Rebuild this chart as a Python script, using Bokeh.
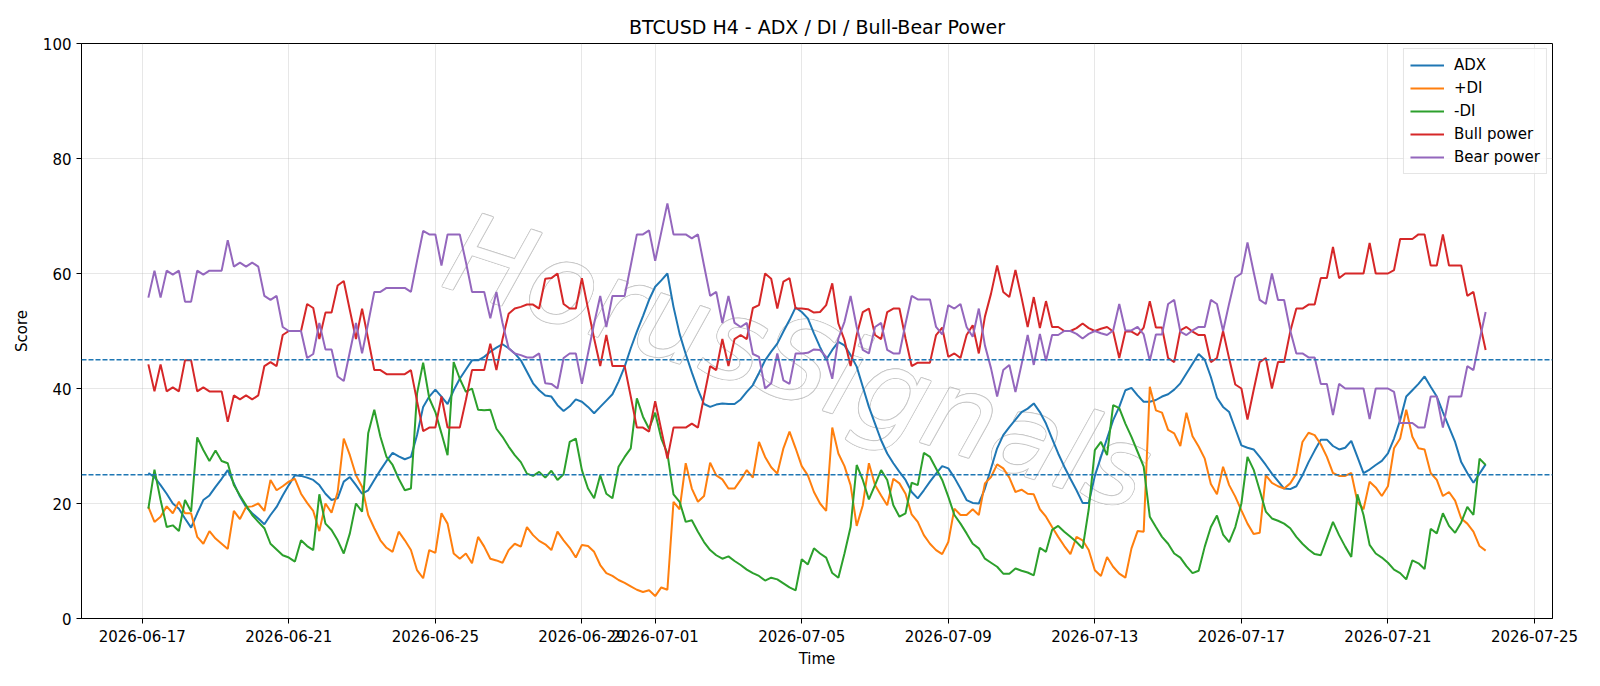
import math
import pandas as pd
from bokeh.plotting import figure
from bokeh.models import (Range1d, FixedTicker, DatetimeTickFormatter, Span,
                          Legend, LegendItem)
from bokeh.core.properties import value
from bokeh.embed import file_html
from bokeh.resources import INLINE

# H4 readings, one value per 4-hour candle starting 2026-06-17 04:00
adx = [
    25.3, 24.6, 23.2, 21.7, 20.0, 19.1, 17.4, 15.8, 18.3, 20.6,
    21.4, 22.9, 24.3, 25.8, 23.5, 21.2, 19.4, 18.3, 17.4, 16.4,
    18.0, 19.4, 21.4, 23.2, 24.9, 24.8, 24.5, 24.1, 23.2, 21.7,
    20.6, 20.9, 23.8, 24.6, 23.2, 21.7, 22.3, 24.1, 25.8, 27.4,
    28.8, 28.2, 27.7, 28.1, 31.9, 36.8, 38.6, 39.8, 38.6, 37.3,
    39.7, 41.7, 43.3, 44.9, 44.9, 45.5, 46.4, 47.1, 47.7, 47.0,
    46.1, 44.9, 42.9, 40.9, 39.7, 38.8, 38.6, 37.1, 36.1, 36.9,
    38.1, 37.7, 36.8, 35.7, 36.8, 37.9, 39.0, 41.2, 43.8, 47.0,
    49.9, 52.6, 55.4, 57.7, 58.8, 60.0, 54.2, 49.5, 46.0, 42.8,
    39.8, 37.3, 36.8, 37.2, 37.4, 37.3, 37.3, 38.1, 39.4, 40.6,
    42.7, 44.9, 46.4, 47.8, 49.9, 51.9, 54.1, 53.3, 52.2, 49.6,
    47.2, 45.0, 46.7, 48.1, 47.5, 45.8, 43.8, 40.3, 36.8, 33.9,
    31.0, 28.7, 27.0, 25.5, 24.1, 22.0, 20.9, 22.3, 23.8, 25.2,
    26.5, 26.1, 24.5, 22.6, 20.6, 20.1, 20.0, 22.6, 26.1, 29.6,
    31.9, 33.3, 34.6, 35.9, 36.5, 37.4, 35.9, 33.9, 31.3, 28.7,
    26.4, 24.3, 22.3, 20.1, 20.1, 24.8, 28.1, 31.3, 34.5, 36.8,
    39.7, 40.1, 38.8, 37.7, 37.7, 38.0, 38.6, 39.0, 39.8, 40.9,
    42.6, 44.3, 46.0, 45.0, 42.0, 38.4, 36.8, 35.9, 33.0, 30.1,
    29.7, 29.4, 28.1, 26.7, 25.2, 23.9, 22.6, 22.5, 23.0, 24.9,
    27.2, 29.2, 31.1, 31.1, 30.0, 29.4, 29.7, 30.9, 28.1, 25.3,
    25.9, 26.7, 27.4, 28.7, 31.3, 34.5, 38.6, 39.7, 40.8, 42.1,
    40.3, 38.6, 35.9, 33.3, 30.7, 27.2, 25.3, 23.6, 25.2, 26.8,
]

plus_di = [
    19.4, 16.8, 17.7, 19.5, 18.3, 20.3, 18.3, 18.3, 14.2, 13.0,
    15.2, 13.9, 13.0, 12.1, 18.7, 17.3, 19.4, 19.5, 20.0, 18.7,
    24.1, 22.3, 23.0, 23.8, 24.3, 21.7, 20.1, 18.7, 15.2, 20.0,
    18.4, 22.0, 31.3, 28.4, 24.9, 22.9, 18.0, 15.7, 13.6, 12.3,
    11.6, 15.1, 13.6, 11.9, 8.4, 7.0, 11.9, 11.4, 18.3, 16.5,
    11.3, 10.4, 11.3, 9.6, 14.2, 12.5, 10.4, 10.1, 9.7, 11.9,
    13.0, 12.5, 15.9, 14.5, 13.5, 12.9, 11.9, 15.1, 13.6, 12.3,
    10.6, 12.8, 12.6, 11.6, 9.3, 7.9, 7.4, 6.7, 6.2, 5.6,
    5.0, 4.6, 4.9, 3.9, 5.4, 5.0, 20.3, 19.0, 27.0, 22.6,
    20.3, 21.3, 27.1, 24.9, 24.2, 22.6, 22.6, 24.1, 25.8, 24.5,
    30.7, 28.1, 26.3, 25.2, 29.6, 32.5, 29.6, 26.5, 24.9, 22.0,
    20.0, 18.7, 33.2, 28.7, 26.5, 23.2, 16.1, 19.7, 27.0, 23.2,
    21.4, 19.7, 24.3, 23.5, 21.7, 18.1, 16.8, 14.5, 13.0, 11.9,
    11.2, 13.3, 19.1, 18.0, 18.0, 19.0, 18.0, 23.5, 24.6, 26.8,
    26.1, 24.5, 22.0, 22.4, 21.7, 21.6, 19.0, 17.7, 15.9, 14.2,
    12.6, 11.2, 14.2, 13.6, 11.9, 8.4, 7.4, 10.7, 9.0, 7.8,
    7.1, 12.2, 15.2, 15.1, 40.3, 36.2, 35.8, 32.8, 32.2, 30.0,
    35.8, 31.7, 29.9, 27.8, 23.4, 21.6, 26.4, 23.2, 21.2, 18.8,
    16.5, 14.7, 14.9, 24.9, 23.6, 23.0, 22.6, 23.5, 25.2, 30.7,
    32.3, 31.9, 30.3, 28.1, 25.3, 24.8, 24.8, 25.3, 20.3, 19.0,
    23.8, 22.8, 21.3, 23.0, 29.6, 31.3, 36.3, 31.6, 29.6, 29.4,
    25.3, 24.1, 21.3, 22.0, 20.5, 17.4, 16.5, 15.1, 12.6, 11.8,
]

minus_di = [
    19.1, 25.9, 20.6, 15.9, 16.2, 15.2, 20.6, 18.6, 31.5, 29.3,
    27.4, 29.2, 27.4, 27.0, 23.2, 21.4, 19.7, 18.0, 16.8, 15.7,
    13.0, 12.0, 11.0, 10.6, 9.9, 13.6, 12.6, 11.9, 21.6, 16.5,
    15.4, 13.6, 11.3, 14.8, 20.0, 18.6, 32.2, 36.3, 31.6, 28.1,
    26.7, 24.3, 22.3, 22.6, 39.1, 44.5, 38.3, 35.9, 32.2, 28.4,
    44.6, 41.7, 39.4, 40.0, 36.3, 36.2, 36.3, 33.0, 31.6, 29.9,
    28.4, 27.2, 25.2, 24.8, 25.5, 24.5, 25.7, 24.1, 25.1, 30.7,
    31.3, 25.8, 22.6, 20.9, 24.9, 21.7, 20.9, 26.4, 28.1, 29.6,
    38.3, 35.1, 33.0, 35.8, 31.3, 28.7, 21.6, 20.3, 16.8, 17.1,
    15.1, 13.3, 11.9, 11.0, 10.4, 10.8, 10.0, 9.3, 8.5, 7.9,
    7.4, 6.6, 7.1, 6.8, 6.1, 5.4, 4.9, 10.3, 9.4, 12.2,
    11.3, 10.6, 7.9, 7.1, 11.3, 15.9, 26.7, 24.1, 20.7, 23.2,
    25.8, 24.1, 19.7, 17.7, 18.3, 23.6, 23.2, 28.8, 28.1, 26.1,
    24.1, 21.2, 18.0, 16.5, 14.8, 13.0, 12.2, 10.4, 9.7, 9.0,
    7.8, 7.8, 8.7, 8.3, 8.0, 7.5, 12.3, 11.6, 15.4, 16.1,
    15.1, 14.2, 13.3, 12.2, 19.0, 29.3, 30.7, 28.4, 37.1, 36.6,
    33.9, 31.6, 29.0, 26.4, 17.7, 15.9, 14.2, 13.0, 11.3, 10.6,
    9.1, 7.9, 8.3, 12.5, 15.9, 17.9, 14.6, 13.3, 15.9, 20.0,
    28.1, 25.9, 22.3, 18.6, 17.4, 17.0, 16.5, 15.7, 14.2, 13.0,
    12.0, 11.2, 11.0, 13.9, 16.8, 14.5, 12.5, 10.7, 21.6, 18.0,
    12.8, 11.3, 10.6, 9.7, 8.5, 7.9, 6.8, 10.1, 9.6, 8.6,
    15.6, 14.8, 18.3, 16.1, 14.9, 16.7, 19.4, 18.0, 27.8, 26.7,
]

bull_power = [
    44.2, 39.5, 44.2, 39.5, 40.2, 39.5, 44.9, 44.9, 39.5, 40.2,
    39.5, 39.5, 39.5, 34.2, 38.8, 38.1, 38.8, 38.1, 38.8, 43.9,
    44.6, 43.9, 49.3, 50.0, 50.0, 50.0, 54.7, 54.0, 48.6, 53.2,
    53.2, 57.9, 58.7, 53.6, 48.6, 53.9, 48.6, 43.2, 43.2, 42.5,
    42.5, 42.5, 42.5, 43.2, 37.8, 32.6, 33.2, 33.2, 38.6, 33.2,
    33.2, 33.2, 38.0, 43.2, 43.2, 43.2, 47.8, 43.2, 48.6, 53.0,
    53.9, 54.2, 54.6, 54.6, 53.9, 59.1, 59.2, 60.0, 54.7, 53.9,
    53.9, 59.2, 53.9, 48.7, 43.9, 49.3, 43.9, 43.9, 43.9, 38.6,
    33.2, 33.2, 32.5, 37.8, 32.8, 27.8, 33.2, 33.2, 33.2, 33.9,
    33.2, 38.6, 43.9, 43.2, 48.6, 43.9, 48.6, 49.3, 48.6, 54.0,
    54.5, 60.0, 59.1, 53.9, 58.6, 59.2, 53.9, 53.9, 53.8, 53.2,
    53.3, 54.5, 58.3, 51.3, 48.4, 43.9, 49.3, 53.3, 53.9, 49.3,
    48.6, 53.3, 53.9, 53.9, 48.7, 43.9, 44.5, 44.5, 44.5, 49.3,
    50.6, 45.5, 46.1, 45.3, 49.3, 51.0, 46.1, 52.5, 56.5, 61.4,
    56.8, 55.9, 60.6, 55.8, 50.7, 55.9, 50.5, 55.2, 50.7, 50.7,
    50.0, 50.0, 50.5, 51.3, 50.5, 50.0, 50.4, 50.7, 49.9, 45.3,
    49.9, 49.9, 49.3, 50.6, 55.2, 50.6, 50.6, 45.3, 44.6, 50.1,
    50.7, 49.9, 49.3, 49.3, 44.6, 45.3, 50.0, 45.2, 40.7, 40.0,
    34.6, 39.7, 44.6, 45.3, 40.0, 44.6, 44.6, 49.9, 53.9, 53.9,
    54.6, 54.6, 59.2, 59.2, 64.6, 59.2, 60.0, 60.0, 60.0, 60.0,
    65.3, 60.0, 60.0, 60.0, 60.6, 66.0, 66.0, 66.0, 66.8, 66.8,
    61.4, 61.4, 66.8, 61.4, 61.4, 61.4, 56.1, 56.8, 51.6, 46.7,
]

bear_power = [
    55.8, 60.5, 55.8, 60.5, 59.8, 60.5, 55.1, 55.1, 60.5, 59.8,
    60.5, 60.5, 60.5, 65.8, 61.2, 61.9, 61.2, 61.9, 61.2, 56.1,
    55.4, 56.1, 50.7, 50.0, 50.0, 50.0, 45.3, 46.0, 51.4, 46.8,
    46.8, 42.1, 41.3, 46.4, 51.4, 46.1, 51.4, 56.8, 56.8, 57.5,
    57.5, 57.5, 57.5, 56.8, 62.2, 67.4, 66.8, 66.8, 61.4, 66.8,
    66.8, 66.8, 62.0, 56.8, 56.8, 56.8, 52.2, 56.8, 51.4, 47.0,
    46.1, 45.8, 45.4, 45.4, 46.1, 40.9, 40.8, 40.0, 45.3, 46.1,
    46.1, 40.8, 46.1, 51.3, 56.1, 50.7, 56.1, 56.1, 56.1, 61.4,
    66.8, 66.8, 67.5, 62.2, 67.2, 72.2, 66.8, 66.8, 66.8, 66.1,
    66.8, 61.4, 56.1, 56.8, 51.4, 56.1, 51.4, 50.7, 51.4, 46.0,
    45.5, 40.0, 40.9, 46.1, 41.4, 40.8, 46.1, 46.1, 46.2, 46.8,
    46.7, 45.5, 41.7, 48.7, 51.6, 56.1, 50.7, 46.7, 46.1, 50.7,
    51.4, 46.7, 46.1, 46.1, 51.3, 56.1, 55.5, 55.5, 55.5, 50.7,
    49.4, 54.5, 53.9, 54.7, 50.7, 49.0, 53.9, 47.5, 43.5, 38.6,
    43.2, 44.1, 39.4, 44.2, 49.3, 44.1, 49.5, 44.8, 49.3, 49.3,
    50.0, 50.0, 49.5, 48.7, 49.5, 50.0, 49.6, 49.3, 50.1, 54.7,
    50.1, 50.1, 50.7, 49.4, 44.8, 49.4, 49.4, 54.7, 55.4, 49.9,
    49.3, 50.1, 50.7, 50.7, 55.4, 54.7, 50.0, 54.8, 59.3, 60.0,
    65.4, 60.3, 55.4, 54.7, 60.0, 55.4, 55.4, 50.1, 46.1, 46.1,
    45.4, 45.4, 40.8, 40.8, 35.4, 40.8, 40.0, 40.0, 40.0, 40.0,
    34.7, 40.0, 40.0, 40.0, 39.4, 34.0, 34.0, 34.0, 33.2, 33.2,
    38.6, 38.6, 33.2, 38.6, 38.6, 38.6, 43.9, 43.2, 48.4, 53.3,
]

series_names = ["ADX", "+DI", "-DI", "Bull power", "Bear power"]
series_colors = ["#1f77b4", "#ff7f0e", "#2ca02c", "#d62728", "#9467bd"]
threshold_levels = [25, 45]
x_tick_dates = ["2026-06-17", "2026-06-21", "2026-06-25", "2026-06-29", "2026-07-01",
                "2026-07-05", "2026-07-09", "2026-07-13", "2026-07-17", "2026-07-21",
                "2026-07-25"]
y_tick_values = [0, 20, 40, 60, 80, 100]
watermark_text = "HorusSignals"

times = pd.date_range("2026-06-17 04:00", periods=len(adx), freq="4h")
FONT = "DejaVu Sans"
TICK_PX = "15px"

span = times[-1] - times[0]
pad = span * 0.05
x_start = (times[0] - pad).to_pydatetime()
x_end = (times[-1] + pad).to_pydatetime()

p = figure(width=1600, height=686, x_axis_type="datetime",
           output_backend="svg", toolbar_location=None,
           x_range=Range1d(x_start, x_end), y_range=Range1d(0, 100),
           min_border_left=81, min_border_right=48,
           min_border_top=43, min_border_bottom=68)

p.background_fill_color = "white"
p.border_fill_color = "white"
p.outline_line_color = "black"
p.outline_line_width = 1

# title
p.title.text = "BTCUSD H4 - ADX / DI / Bull-Bear Power"
p.title.align = "center"
p.title.text_font = FONT
p.title.text_font_size = "19px"
p.title.text_font_style = "normal"
p.title.text_color = "black"
p.title.standoff = 11

# axes
tick_ms = [pd.Timestamp(d).value // 10**6 for d in x_tick_dates]
p.xaxis.ticker = FixedTicker(ticks=tick_ms)
fmt = "%Y-%m-%d"
p.xaxis.formatter = DatetimeTickFormatter(
    microseconds=fmt, milliseconds=fmt, seconds=fmt, minsec=fmt, minutes=fmt,
    hourmin=fmt, hours=fmt, days=fmt, months=fmt, years=fmt)
p.yaxis.ticker = FixedTicker(ticks=y_tick_values)
p.xgrid.ticker = FixedTicker(ticks=tick_ms)
p.ygrid.ticker = FixedTicker(ticks=y_tick_values)

for ax in (p.xaxis, p.yaxis):
    ax.axis_line_color = "black"
    ax.major_tick_line_color = "black"
    ax.major_tick_in = 0
    ax.major_tick_out = 5
    ax.minor_tick_line_color = None
    ax.major_label_text_font = FONT
    ax.major_label_text_font_size = TICK_PX
    ax.major_label_text_color = "black"
    ax.axis_label_text_font = FONT
    ax.axis_label_text_font_size = TICK_PX
    ax.axis_label_text_font_style = "normal"
    ax.axis_label_text_color = "black"

p.xaxis.axis_label = "Time"
p.yaxis.axis_label = "Score"
p.xaxis.major_label_standoff = 6
p.xaxis.axis_label_standoff = 5
p.yaxis.axis_label_standoff = 9

p.grid.grid_line_color = "#b0b0b0"
p.grid.grid_line_alpha = 0.3
p.grid.grid_line_width = 1

# faint outlined watermark: grey copies nudged around a white core
wm_x = [pd.Timestamp("2026-07-04 22:00").to_pydatetime()]
wm_y = [44.7]
wm_style = dict(angle=-0.315, text_font=value("DejaVu Sans"), text_font_style="italic",
                text_font_size="112px", text_align="center", text_baseline="middle",
                level="image")
for k in range(8):
    a = k * math.pi / 4
    p.text(x=wm_x, y=wm_y, text=[watermark_text],
           x_offset=0.9 * math.cos(a), y_offset=0.9 * math.sin(a),
           text_color="#c8c8c8", **wm_style)
p.text(x=wm_x, y=wm_y, text=[watermark_text], text_color="white", **wm_style)

series = [adx, plus_di, minus_di, bull_power, bear_power]
renderers = []
for vals, color in zip(series, series_colors):
    r = p.line(times, vals, line_color=color, line_width=2)
    renderers.append(r)

for lvl in threshold_levels:
    p.add_layout(Span(location=lvl, dimension="width", line_color="#1f77b4",
                      line_dash="5 2", line_width=1.4))

legend = Legend(items=[LegendItem(label=n, renderers=[r])
                       for n, r in zip(series_names, renderers)],
                location="top_right")
legend.label_text_font = FONT
legend.label_text_font_size = TICK_PX
legend.label_text_color = "black"
legend.border_line_color = "#cccccc"
legend.background_fill_color = "white"
legend.background_fill_alpha = 0.8
legend.glyph_width = 34
legend.glyph_height = 20
legend.label_height = 20
legend.spacing = 3
legend.padding = 6
legend.label_standoff = 10
legend.margin = 5
p.add_layout(legend)

open("out.html", "w").write(file_html(p, INLINE))
